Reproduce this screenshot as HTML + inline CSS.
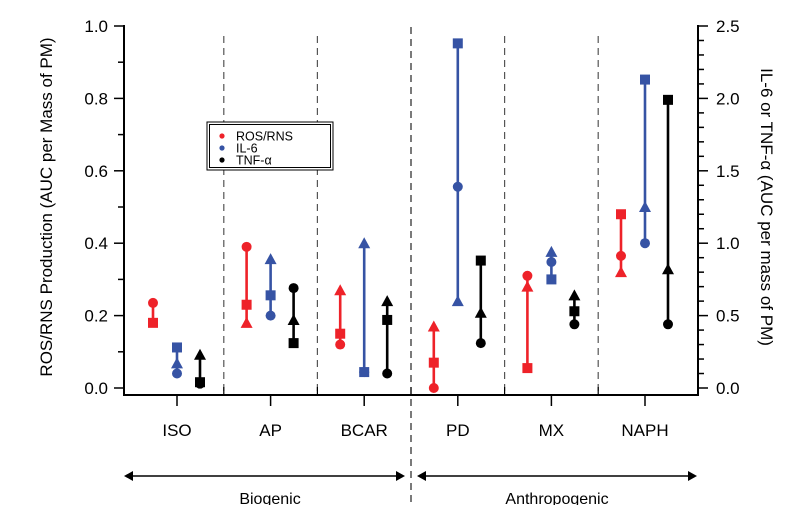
<!DOCTYPE html>
<html><head><meta charset="utf-8"><style>
body{margin:0;background:#fff;}
svg{display:block;font-family:"Liberation Sans",sans-serif;}
</style></head><body>
<svg id="chart" width="800" height="505" viewBox="0 0 800 505"></svg>
<script>
const categories=["ISO","AP","BCAR","PD","MX","NAPH"];
// ROS/RNS (left axis): circle, square, triangle
const rosCircle=[0.235,0.39,0.12,0.0,0.31,0.365];
const rosSquare=[0.18,0.23,0.15,0.07,0.055,0.48];
const rosTriangle=[null,0.18,0.27,0.17,0.28,0.32];
// IL-6 (right axis)
const il6Circle=[0.10,0.50,0.11,1.39,0.87,1.00];
const il6Square=[0.28,0.64,0.11,2.38,0.75,2.13];
const il6Triangle=[0.17,0.89,1.00,0.60,0.94,1.25];
// TNF-a (right axis)
const tnfCircle=[0.03,0.69,0.10,0.31,0.44,0.44];
const tnfSquare=[0.04,0.31,0.47,0.88,0.53,1.99];
const tnfTriangle=[0.23,0.47,0.60,0.52,0.64,0.82];
const leftTicks=["0.0","0.2","0.4","0.6","0.8","1.0"];
const rightTicks=["0.0","0.5","1.0","1.5","2.0","2.5"];

const NS="http://www.w3.org/2000/svg";
const svg=document.getElementById('chart');
function mk(tag,attrs,parent){const e=document.createElementNS(NS,tag);for(const k in attrs)e.setAttribute(k,attrs[k]);(parent||svg).appendChild(e);return e;}
const X0=124,X1=698,Y0=388,Y1=26,AXY=395;
const yL=v=>Y0-(v/1.0)*(Y0-Y1);
const yR=v=>Y0-(v/2.5)*(Y0-Y1);
const cx=i=>177+i*93.6;

// separators
[0,1,3,4].forEach(i=>{const x=cx(i)+46.8;
const l=mk('line',{x1:x,y1:36,x2:x,y2:AXY,stroke:'#555','stroke-width':1.2,'stroke-dasharray':'7,5'});
});
const cl=mk('line',{x1:411,y1:27,x2:411,y2:505,stroke:'#222','stroke-width':1.2,'stroke-dasharray':'7,5'});


// axes
const ax=mk('g',{});
mk('line',{x1:X0,y1:Y1-1,x2:X0,y2:AXY+1,stroke:'#000','stroke-width':2},ax);
mk('line',{x1:X1,y1:Y1-1,x2:X1,y2:AXY+1,stroke:'#000','stroke-width':2},ax);
mk('line',{x1:X0,y1:AXY,x2:X1,y2:AXY,stroke:'#000','stroke-width':2},ax);
for(let k=0;k<=10;k++){const y=yL(k/10);mk('line',{x1:X0-(k%2?6:10),y1:y,x2:X0,y2:y,stroke:'#000','stroke-width':1.5},ax);}
leftTicks.forEach(t=>{const e=mk('text',{x:108,y:yL(+t)+6,'text-anchor':'end','font-size':17},ax);e.textContent=t;
});
for(let k=0;k<=25;k++){const y=yR(k/10);mk('line',{x1:X1,y1:y,x2:X1+(k%5?6:10),y2:y,stroke:'#000','stroke-width':1.5},ax);}
rightTicks.forEach(t=>{const e=mk('text',{x:716,y:yR(+t)+6,'font-size':17},ax);e.textContent=t;
});
categories.forEach((c,i)=>{mk('line',{x1:cx(i),y1:AXY,x2:cx(i),y2:AXY+11,stroke:'#000','stroke-width':1.5},ax);
if(i<5)mk('line',{x1:cx(i)+46.8,y1:AXY,x2:cx(i)+46.8,y2:AXY-8,stroke:'#000','stroke-width':1.2},ax);
const e=mk('text',{x:cx(i),y:436,'text-anchor':'middle','font-size':17},ax);e.textContent=c;
});
let t=mk('text',{transform:'translate(52,207) rotate(-90)','text-anchor':'middle','font-size':17});t.textContent='ROS/RNS Production (AUC per Mass of PM)';

t=mk('text',{transform:'translate(761,207) rotate(90)','text-anchor':'middle','font-size':17});t.textContent='IL-6 or TNF-\u03b1 (AUC per mass of PM)';


// arrows
function arrow(x1,x2,name){const g=mk('g',{});
mk('line',{x1:x1+6,y1:476,x2:x2-6,y2:476,stroke:'#000','stroke-width':1.5},g);
mk('polygon',{points:`${x1},476 ${x1+9},471 ${x1+9},481`,fill:'#000'},g);
mk('polygon',{points:`${x2},476 ${x2-9},471 ${x2-9},481`,fill:'#000'},g);}
arrow(124,405,'biogenic-arrow');arrow(417,697,'anthropogenic-arrow');
t=mk('text',{x:270,y:504,'text-anchor':'middle','font-size':16});t.textContent='Biogenic';
t=mk('text',{x:557,y:504,'text-anchor':'middle','font-size':16});t.textContent='Anthropogenic';

// series
function marker(shape,x,y,col,g){
if(shape==='c')return mk('circle',{cx:x,cy:y,r:5,fill:col},g);
if(shape==='s')return mk('rect',{x:x-5,y:y-5,width:10,height:10,fill:col},g);
return mk('polygon',{points:`${x},${y-6} ${x-6},${y+5} ${x+6},${y+5}`,fill:col},g);}
const series=[
{name:'ros',col:'#ee2229',off:-24,f:yL,c:rosCircle,s:rosSquare,t:rosTriangle},
{name:'il6',col:'#3653a4',off:0,f:yR,c:il6Circle,s:il6Square,t:il6Triangle},
{name:'tnf',col:'#000',off:23,f:yR,c:tnfCircle,s:tnfSquare,t:tnfTriangle}];
series.forEach(S=>{categories.forEach((c,i)=>{
const g=mk('g',{});
const x=cx(i)+S.off;const vals=[S.c[i],S.s[i],S.t[i]].filter(v=>v!==null).map(S.f);
mk('line',{x1:x,y1:Math.min(...vals),x2:x,y2:Math.max(...vals),stroke:S.col,'stroke-width':2.6},g);
if(S.t[i]!==null){const m=marker('t',x,S.f(S.t[i]),S.col,g);}
let m=marker('s',x,S.f(S.s[i]),S.col,g);
m=marker('c',x,S.f(S.c[i]),S.col,g);
});});

// legend
const lg=mk('g',{});
mk('rect',{x:207,y:122,width:126,height:48,fill:'#fff',stroke:'#000','stroke-width':1},lg);
mk('rect',{x:209.5,y:124.5,width:121,height:43,fill:'none',stroke:'#000','stroke-width':1},lg);
[['ROS/RNS','#ee2229'],['IL-6','#3653a4'],['TNF-\u03b1','#000']].forEach((e,k)=>{
const y=136+k*12;const en=mk('g',{},lg);
mk('circle',{cx:222,cy:y,r:2.6,fill:e[1]},en);
const tx=mk('text',{x:236,y:y+4.5,'font-size':12.5},en);tx.textContent=e[0];});
</script>
</body></html>
